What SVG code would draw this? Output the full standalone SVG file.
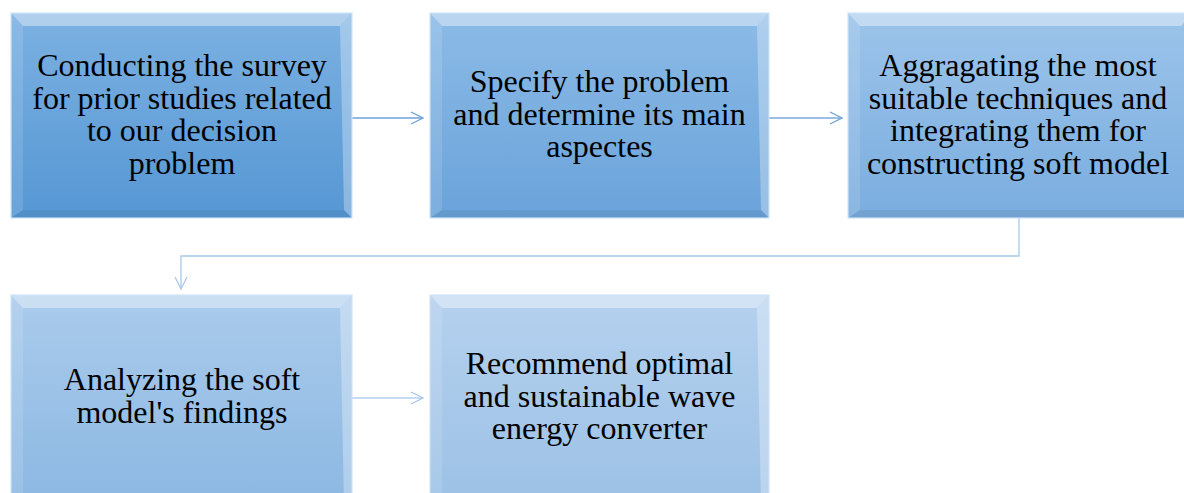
<svg xmlns="http://www.w3.org/2000/svg" width="1184" height="493" viewBox="0 0 1184 493">
<style>
.t{font-family:"Liberation Serif","Times New Roman",serif;font-size:32px;fill:#000;text-anchor:middle}
.edge{fill:none;stroke-width:1.3}
.bt{fill:#fff;opacity:0.4}
.bl{fill:#fff;opacity:0.12}
.br{fill:#fff;opacity:0.3}
.bb{fill:#000;opacity:0.06}
.ol{fill:none;stroke:#cfe3f7;stroke-width:1.2}
</style>
<defs>
<linearGradient id="g1" x1="0" y1="0" x2="0" y2="1"><stop offset="0" stop-color="#7cb1e2"/><stop offset="1" stop-color="#5697d4"/></linearGradient>
<linearGradient id="g2" x1="0" y1="0" x2="0" y2="1"><stop offset="0" stop-color="#8cbbe7"/><stop offset="1" stop-color="#6aa3da"/></linearGradient>
<linearGradient id="g3" x1="0" y1="0" x2="0" y2="1"><stop offset="0" stop-color="#9cc4ea"/><stop offset="1" stop-color="#7aaddf"/></linearGradient>
<linearGradient id="g4" x1="0" y1="0" x2="0" y2="1"><stop offset="0" stop-color="#aacbec"/><stop offset="1" stop-color="#8cb8e2"/></linearGradient>
<linearGradient id="g5" x1="0" y1="0" x2="0" y2="1"><stop offset="0" stop-color="#b5d1ee"/><stop offset="1" stop-color="#9cc1e6"/></linearGradient>
<marker id="a1" viewBox="0 0 14 14" refX="13" refY="7" markerWidth="14" markerHeight="14" markerUnits="userSpaceOnUse" orient="auto"><path d="M1 1 L13 7 L1 13" fill="none" stroke="#6fa0d8" stroke-width="1.3"/></marker>
<marker id="a2" viewBox="0 0 14 14" refX="13" refY="7" markerWidth="14" markerHeight="14" markerUnits="userSpaceOnUse" orient="auto"><path d="M1 1 L13 7 L1 13" fill="none" stroke="#a9c8ec" stroke-width="1.3"/></marker>
</defs>

<g id="connectors">
<path class="edge" d="M352 118 H423" stroke="#6fa0d8" marker-end="url(#a1)"/>
<path class="edge" d="M769 118 H842" stroke="#78a8dc" marker-end="url(#a1)"/>
<path class="edge" d="M1019 218 V256 H181 V289" stroke="#a9c8ec" stroke-width="2" marker-end="url(#a2)"/>
<path class="edge" d="M352 398 H423" stroke="#b3cff0" marker-end="url(#a2)"/>
</g>

<g id="node1">
<rect x="11" y="13" width="341" height="205" fill="url(#g1)"/>
<polygon class="bt" points="11,13 352,13 340,26 23,26"/>
<polygon class="bl" points="11,13 23,26 23,210 11,218"/>
<polygon class="br" points="352,13 352,218 344,210 340,26"/>
<polygon class="bb" points="11,218 23,210 344,210 352,218"/>
<rect class="ol" x="11" y="13" width="341" height="205"/>
<text class="t" x="182" y="76">Conducting the survey</text>
<text class="t" x="182" y="108.5">for prior studies related</text>
<text class="t" x="182" y="141">to our decision</text>
<text class="t" x="182" y="173.5">problem</text>
</g>

<g id="node2">
<rect x="430" y="13" width="339" height="205" fill="url(#g2)"/>
<polygon class="bt" points="430,13 769,13 757,26 442,26"/>
<polygon class="bl" points="430,13 442,26 442,210 430,218"/>
<polygon class="br" points="769,13 769,218 761,210 757,26"/>
<polygon class="bb" points="430,218 442,210 761,210 769,218"/>
<rect class="ol" x="430" y="13" width="339" height="205"/>
<text class="t" x="599.5" y="92">Specify the problem</text>
<text class="t" x="599.5" y="124.5">and determine its main</text>
<text class="t" x="599.5" y="157">aspectes</text>
</g>

<g id="node3">
<rect x="848" y="13" width="345" height="205" fill="url(#g3)"/>
<polygon class="bt" points="848,13 1193,13 1181,26 860,26"/>
<polygon class="bl" points="848,13 860,26 860,210 848,218"/>
<polygon class="bb" points="848,218 860,210 1185,210 1193,218"/>
<rect class="ol" x="848" y="13" width="345" height="205"/>
<text class="t" x="1018" y="76">Aggragating the most</text>
<text class="t" x="1018" y="108.5">suitable techniques and</text>
<text class="t" x="1018" y="141">integrating them for</text>
<text class="t" x="1018" y="173.5">constructing soft model</text>
</g>

<g id="node4">
<rect x="11" y="295" width="341" height="210" fill="url(#g4)"/>
<polygon class="bt" points="11,295 352,295 340,308 23,308"/>
<polygon class="bl" points="11,295 23,308 23,505 11,505"/>
<polygon class="br" points="352,295 352,505 344,505 340,308"/>
<rect class="ol" x="11" y="295" width="341" height="210"/>
<text class="t" x="182" y="390">Analyzing the soft</text>
<text class="t" x="182" y="422.5">model's findings</text>
</g>

<g id="node5">
<rect x="430" y="295" width="339" height="210" fill="url(#g5)"/>
<polygon class="bt" points="430,295 769,295 757,308 442,308"/>
<polygon class="bl" points="430,295 442,308 442,505 430,505"/>
<polygon class="br" points="769,295 769,505 761,505 757,308"/>
<rect class="ol" x="430" y="295" width="339" height="210"/>
<text class="t" x="599.5" y="374">Recommend optimal</text>
<text class="t" x="599.5" y="406.5">and sustainable wave</text>
<text class="t" x="599.5" y="439">energy converter</text>
</g>
</svg>
